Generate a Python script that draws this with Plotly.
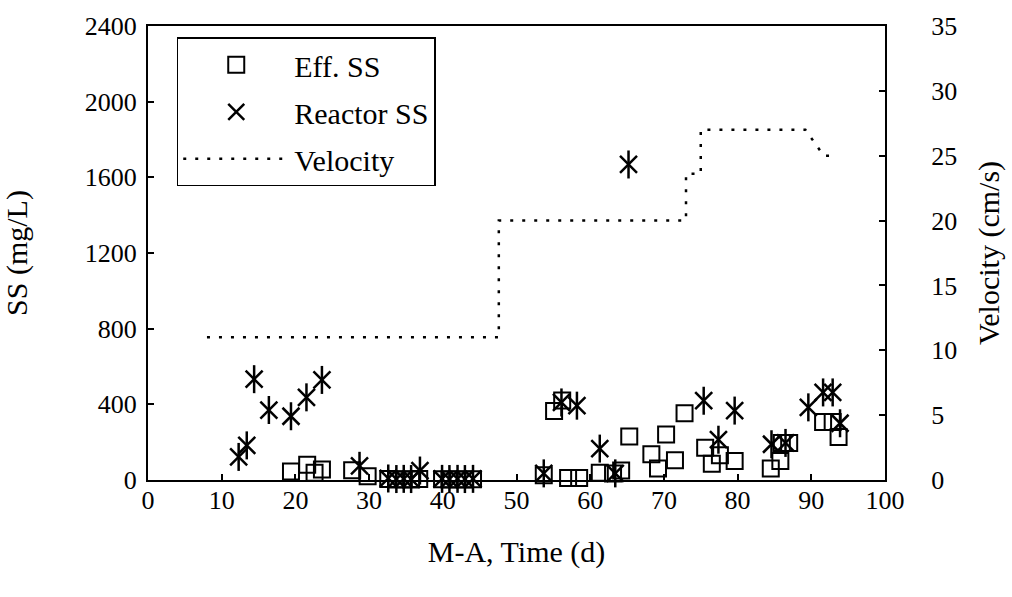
import plotly.graph_objects as go

# ---- data ----
eff_x = [19.4, 21.6, 22.6, 23.6, 27.7, 29.8, 32.6, 33.7, 34.7, 35.7, 36.8, 39.9, 40.9, 42.0, 43.0, 44.1,
         53.7, 55.1, 56.2, 57.0, 58.5, 61.3, 63.1, 64.2, 65.3, 68.3, 69.2, 70.3, 71.5, 72.8, 75.6, 76.5,
         77.6, 79.6, 84.5, 85.8, 86.0, 87.0, 91.6, 92.9, 93.7]
eff_y = [45, 80, 38, 55, 52, 20, 5, 3, 4, 3, 5, 4, 3, 4, 3, 4,
         25, 365, 420, 10, 10, 38, 35, 50, 230, 136, 61, 241, 105, 353, 171, 86,
         131, 101, 61, 101, 195, 195, 306, 306, 227]

reactor_x = [12.3, 13.4, 14.4, 16.4, 19.4, 21.5, 23.6, 28.7, 32.6, 33.7, 34.7, 35.7, 36.9, 39.9, 40.9,
             42.0, 43.0, 44.1, 53.7, 56.1, 58.2, 61.3, 63.4, 65.2, 75.4, 77.4, 79.6, 84.6, 86.5, 89.6,
             91.6, 92.9, 93.9]
reactor_y = [122, 183, 533, 370, 337, 437, 529, 75, 8, 5, 6, 5, 50, 6, 5,
             6, 5, 6, 35, 410, 393, 166, 35, 1668, 419, 213, 367, 189, 196, 384,
             463, 463, 300]

velocity_x = [8, 47.6, 47.6, 73, 73, 75, 75, 89.2, 91.7, 93.3]
velocity_y = [11, 11, 20, 20, 23.6, 23.6, 27, 27, 25, 25]

x_ticks = [0, 10, 20, 30, 40, 50, 60, 70, 80, 90, 100]
ss_ticks = [0, 400, 800, 1200, 1600, 2000, 2400]
vel_ticks = [0, 5, 10, 15, 20, 25, 30, 35]

FONT = "Liberation Serif"
TICK_FS = 26
TITLE_FS = 30
LEG_FS = 30

fig = go.Figure()

fig.add_trace(go.Scatter(
    x=eff_x, y=eff_y, mode="markers", name="Eff. SS",
    legendgroup="a",
    marker=dict(symbol="square-open", size=16, color="black", line=dict(width=2, color="black")),
    cliponaxis=False,
))
fig.add_trace(go.Scatter(
    x=reactor_x, y=reactor_y, mode="markers", name="Reactor SS",
    legendgroup="b",
    marker=dict(symbol="x-thin-open", size=17, color="black", line=dict(width=2.5, color="black")),
    cliponaxis=False,
))
fig.add_trace(go.Scatter(
    x=reactor_x, y=reactor_y, mode="markers", name="Reactor SS",
    legendgroup="b", showlegend=False,
    marker=dict(symbol="line-ns-open", size=20, color="black", line=dict(width=2.5, color="black")),
    cliponaxis=False,
))
fig.add_trace(go.Scatter(
    x=velocity_x, y=velocity_y, mode="lines", name="Velocity", yaxis="y2",
    legendgroup="c",
    line=dict(color="black", width=2.5, dash="3px,9px"),
))

axis_common = dict(
    showline=True, linecolor="black", linewidth=2,
    ticks="inside", ticklen=6, tickwidth=1.5, tickcolor="black",
    showgrid=False, zeroline=False,
    tickfont=dict(family=FONT, size=TICK_FS, color="black"),
)

fig.update_layout(
    width=1012, height=597,
    margin=dict(l=148, r=127, t=22, b=117),
    paper_bgcolor="white", plot_bgcolor="white",
    font=dict(family=FONT, size=TICK_FS, color="black"),
    showlegend=True,
    legend=dict(
        x=0.039, y=0.975, xanchor="left", yanchor="top",
        bordercolor="black", borderwidth=1.5, bgcolor="white",
        font=dict(family=FONT, size=LEG_FS, color="black"),
        itemwidth=106, tracegroupgap=5, traceorder="grouped",
    ),
    xaxis=dict(
        **axis_common, range=[0, 100], tickvals=x_ticks, mirror=True,
        ticklabelstandoff=-4,
        title=dict(text="M-A, Time (d)", font=dict(family=FONT, size=TITLE_FS), standoff=27),
    ),
    yaxis=dict(
        **axis_common, range=[0, 2400], tickvals=ss_ticks,
        ticklabelstandoff=4,
        title=dict(text="SS (mg/L)", font=dict(family=FONT, size=TITLE_FS), standoff=48),
    ),
    yaxis2=dict(
        **axis_common, range=[0, 35], tickvals=vel_ticks, overlaying="y", side="right",
        ticklabelstandoff=39,
        title=dict(text="Velocity (cm/s)", font=dict(family=FONT, size=TITLE_FS), standoff=22),
    ),
)

fig.write_html("out.html")
